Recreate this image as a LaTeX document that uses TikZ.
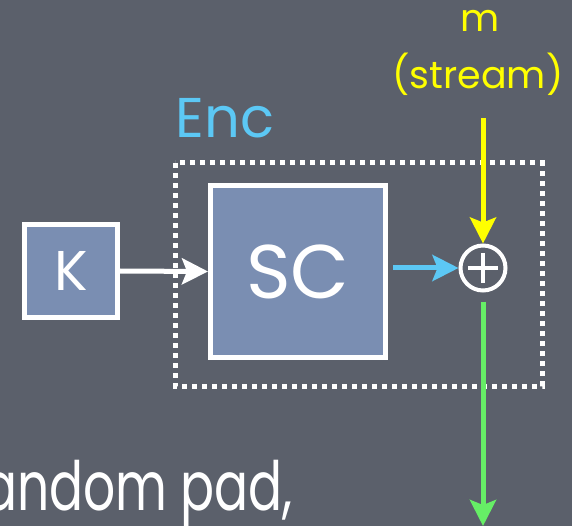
\documentclass[tikz,border=0pt]{standalone}
\usepackage{fontspec}
\setmainfont{Poppins}
\usetikzlibrary{arrows.meta}
\definecolor{bg}{HTML}{5B606B}
\definecolor{boxfill}{HTML}{7A8EB2}
\definecolor{encblue}{HTML}{5CC8F5}
\definecolor{myyellow}{HTML}{FFFF00}
\definecolor{mygreen}{HTML}{66EE66}
\begin{document}
\begin{tikzpicture}[x=1pt,y=-1pt,
  keybox/.style={draw=white, line width=5pt, fill=boxfill, inner sep=0pt, text=white},
  dotbox/.style={draw=white, line width=5pt, dash pattern=on 5pt off 5pt},
  arr/.style={line width=5pt, -{Stealth[length=26pt,width=26pt,inset=5pt]}},
  xorstyle/.style={circle, draw=white, line width=4pt, minimum size=45pt, inner sep=0pt}
]
\useasboundingbox (0,0) rectangle (572,526);
\clip (0,0) rectangle (572,526);
\fill[bg] (0,0) rectangle (572,526);
% dotted enclosure
\draw[dotbox] (175,163) rectangle (542,386);
% boxes
\node[keybox, minimum width=93pt, minimum height=93pt, font=\fontsize{56}{60}\selectfont] (K) at (71,271) {K};
\node[keybox, minimum width=175pt, minimum height=172pt, font=\fontsize{76}{80}\selectfont] (SC) at (298,271.5) {SC};
\node[xorstyle] (X) at (483,268) {};
\draw[white, line width=4pt] ([xshift=-15pt]X.center) -- ([xshift=15pt]X.center);
\draw[white, line width=4pt] ([yshift=-15pt]X.center) -- ([yshift=15pt]X.center);
% labels
\node[text=encblue, font=\fontsize{56}{60}\selectfont] (enc) at (225,118) {Enc};
\node[text=myyellow, font=\fontsize{38}{40}\selectfont] (m) at (480,21) {m};
\node[text=myyellow, font=\fontsize{38}{40}\selectfont] (stream) at (478,74) {(stream)};
\node[text=white, font=\fontsize{68}{72}\selectfont, anchor=base east, inner sep=0pt] (pad) at (293,510) {\scalebox{0.74}[1]{random pad,}};
% connectors
\coordinate (ytop) at (483,118);
\coordinate (gbot) at (483,526);
\draw[arr, white] (K.east) -- (SC.west);
\draw[arr, encblue] ([xshift=5pt]SC.east |- X.center) -- (X.west);
\draw[arr, myyellow] (ytop) -- (X.north);
\draw[arr, mygreen] ([yshift=-9pt]X.south) -- (gbot);
\end{tikzpicture}
\end{document}
